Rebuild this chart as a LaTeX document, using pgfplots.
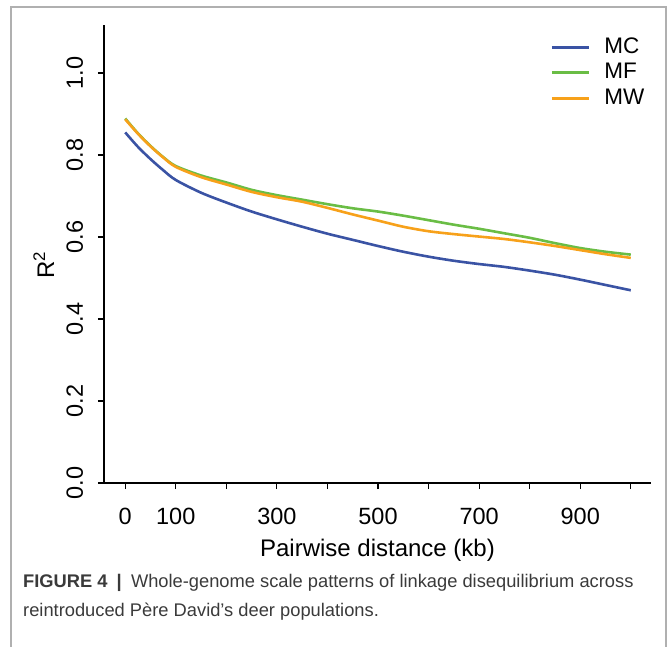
\documentclass[border=0pt]{standalone}
\usepackage{fontspec}
\setmainfont{Liberation Sans}
\usepackage{pgfplots}
\pgfplotsset{compat=1.18}
\definecolor{mc}{HTML}{3A53A4}
\definecolor{mf}{HTML}{6ABD45}
\definecolor{mw}{HTML}{F7A11A}
\definecolor{framegray}{HTML}{B0B0B0}
\definecolor{captext}{HTML}{3A3A3A}

\begin{document}
\begin{tikzpicture}
\useasboundingbox (-104pt,-163pt) rectangle (566pt,483pt);
\draw[framegray, line width=1.5pt] (-93pt,-170pt) -- (-93pt,476pt) -- (562pt,476pt) -- (562pt,-170pt);
\begin{axis}[
  at={(0pt,0pt)}, anchor=south west,
  scale only axis, width=547pt, height=458pt,
  xmin=-42, xmax=1040, ymin=0, ymax=1.117,
  axis lines=left,
  axis line style={-, line width=1.3pt, black},
  every tick/.style={black, line width=1.2pt},
  tick align=outside, major tick length=6pt,
  xtick={0,100,200,300,400,500,600,700,800,900,1000},
  xticklabels={0,100,,300,,500,,700,,900,},
  ytick={0,0.2,0.4,0.6,0.8,1.0},
  /pgf/number format/assume math mode=true,
  yticklabel={\pgfmathprintnumber[fixed, fixed zerofill, precision=1]{\tick}},
  tick label style={font=\fontsize{23.5}{26}\selectfont},
  xticklabel style={anchor=base, yshift=-35pt},
  yticklabel style={xshift=-15pt, rotate=90, anchor=base},
  xlabel={Pairwise distance (kb)},
  xlabel style={font=\fontsize{24}{28}\selectfont, at={(axis description cs:0.5,0)}, anchor=base, yshift=-73pt},
  ylabel={R\textsuperscript{2}},
  ylabel style={font=\fontsize{24}{28}\selectfont, at={(axis description cs:-0.11,0.476)}, anchor=center, rotate=0},
  legend style={draw=none, fill=none, at={(axis description cs:0.81,0.978)}, anchor=north west,
    font=\fontsize{22.5}{24}\selectfont, row sep=5.5pt,
    nodes={inner sep=0pt, text height=16pt, text depth=4pt}},
  legend cell align=left,
  legend image code/.code={\draw[#1, line width=3pt] (0pt,0pt) -- (37pt,0pt);},
  /tikz/every odd column/.append style={column sep=14pt},
]
\addplot[mc, line width=2.6pt, smooth] table {
x y
0 0.855
25 0.820
50 0.790
75 0.763
100 0.739
150 0.708
200 0.684
250 0.662
300 0.643
350 0.625
400 0.608
450 0.593
500 0.578
550 0.564
600 0.552
650 0.542
700 0.534
750 0.527
800 0.518
850 0.508
900 0.496
950 0.483
1000 0.470
};
\addlegendentry{MC}
\addplot[mf, line width=2.6pt, smooth] table {
x y
0 0.889
25 0.853
50 0.822
75 0.795
100 0.773
150 0.750
200 0.733
250 0.715
300 0.702
350 0.691
400 0.680
450 0.670
500 0.662
550 0.652
600 0.641
650 0.630
700 0.620
750 0.609
800 0.598
850 0.585
900 0.573
950 0.564
1000 0.557
};
\addlegendentry{MF}
\addplot[mw, line width=2.6pt, smooth] table {
x y
0 0.887
25 0.852
50 0.821
75 0.794
100 0.771
150 0.746
200 0.728
250 0.710
300 0.697
350 0.686
400 0.671
450 0.655
500 0.640
550 0.625
600 0.614
650 0.607
700 0.601
750 0.595
800 0.587
850 0.578
900 0.568
950 0.558
1000 0.549
};
\addlegendentry{MW}
\end{axis}
\node[anchor=base west, text=captext, font=\fontsize{18.3}{22}\selectfont, inner sep=0pt] at (-81pt,-104pt)
  {\textbf{FIGURE 4}\enspace\textbf{|}\enspace Whole-genome scale patterns of linkage disequilibrium across};
\node[anchor=base west, text=captext, font=\fontsize{18.3}{22}\selectfont, inner sep=0pt] at (-81pt,-133pt)
  {reintroduced Père David’s deer populations.};
\end{tikzpicture}
\end{document}
